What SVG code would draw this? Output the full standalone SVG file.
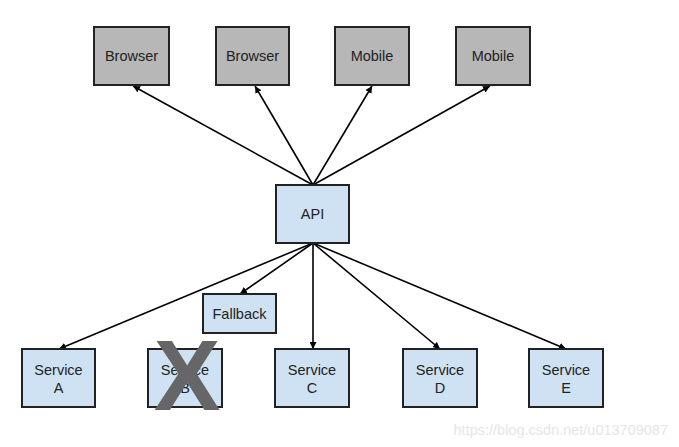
<svg xmlns="http://www.w3.org/2000/svg" width="679" height="447" viewBox="0 0 679 447">
<defs>
<style>
.g{fill:#b7b7b7;stroke:#222;stroke-width:2}
.b{fill:#cfe2f3;stroke:#222;stroke-width:2}
.t{font-family:"Liberation Sans",Arial,sans-serif;font-size:14.5px;fill:#222;text-anchor:middle}
.c line{stroke:#000;stroke-width:1.6;marker-end:url(#ah)}
</style>
<marker id="ah" viewBox="0 0 10 10" refX="10" refY="5" markerWidth="7" markerHeight="7" markerUnits="userSpaceOnUse" orient="auto">
<path d="M0,0 L10,5 L0,10 Z" fill="#000"/>
</marker>
</defs>
<rect width="679" height="447" fill="#fff"/>
<g class="c" id="connectors">
<line x1="313" y1="185" x2="133" y2="86"/>
<line x1="313" y1="185" x2="255" y2="86"/>
<line x1="313" y1="185" x2="372" y2="86"/>
<line x1="313" y1="185" x2="490" y2="86"/>
<line x1="313" y1="243" x2="59" y2="349"/>
<line x1="313" y1="243" x2="240" y2="294"/>
<line x1="313" y1="243" x2="313" y2="349"/>
<line x1="313" y1="243" x2="440" y2="349"/>
<line x1="313" y1="243" x2="566" y2="349"/>
</g>
<g id="browser1"><rect class="g" x="94" y="27" width="75" height="58"/><text class="t" x="131.5" y="61">Browser</text></g>
<g id="browser2"><rect class="g" x="216" y="27" width="73" height="58"/><text class="t" x="252.5" y="61">Browser</text></g>
<g id="mobile1"><rect class="g" x="335" y="27" width="74" height="58"/><text class="t" x="372" y="61">Mobile</text></g>
<g id="mobile2"><rect class="g" x="456" y="27" width="74" height="58"/><text class="t" x="493" y="61">Mobile</text></g>
<g id="api"><rect class="b" x="276" y="185" width="73" height="58"/><text class="t" x="312.5" y="219">API</text></g>
<g id="fallback"><rect class="b" x="203" y="294" width="73" height="39"/><text class="t" x="239.5" y="319">Fallback</text></g>
<g id="serviceA"><rect class="b" x="22" y="349" width="73" height="58"/><text class="t" x="58.5" y="375">Service</text><text class="t" x="58.5" y="393">A</text></g>
<g id="serviceB"><rect class="b" x="148" y="349" width="74" height="58"/><text class="t" x="185" y="375">Service</text><text class="t" x="185" y="393">B</text>
<text x="187" y="410" font-family="'Liberation Sans',Arial,sans-serif" font-size="100" font-weight="bold" fill="#666" text-anchor="middle">X</text></g>
<g id="serviceC"><rect class="b" x="275" y="349" width="74" height="58"/><text class="t" x="312" y="375">Service</text><text class="t" x="312" y="393">C</text></g>
<g id="serviceD"><rect class="b" x="403" y="349" width="74" height="58"/><text class="t" x="440" y="375">Service</text><text class="t" x="440" y="393">D</text></g>
<g id="serviceE"><rect class="b" x="529" y="349" width="74" height="58"/><text class="t" x="566" y="375">Service</text><text class="t" x="566" y="393">E</text></g>
<text x="668" y="435" font-family="'Liberation Sans',Arial,sans-serif" font-size="14.5" fill="#e6e6e6" text-anchor="end">https://blog.csdn.net/u013709087</text>
</svg>
